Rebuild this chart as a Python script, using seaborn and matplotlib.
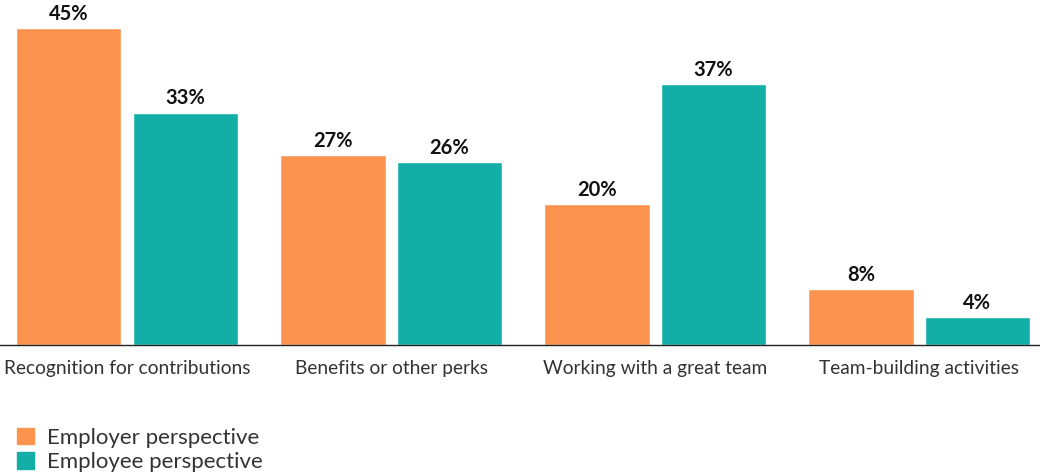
import pandas as pd
import seaborn as sns
import matplotlib.pyplot as plt

categories = ['Recognition for contributions', 'Benefits or other perks',
              'Working with a great team', 'Team-building activities']
employer = [45, 27, 20, 8]
employee = [33, 26, 37, 4]
series = ['Employer perspective', 'Employee perspective']
colors = ['#FC9450', '#13AFA6']

df = pd.DataFrame({
    'category': categories * 2,
    'value': employer + employee,
    'series': [series[0]] * 4 + [series[1]] * 4,
})

sns.set_theme(style='white')
plt.rcParams['font.family'] = ['Lato', 'DejaVu Sans']

fig = plt.figure(figsize=(10.4, 4.75), dpi=100)
ax = fig.add_axes([0, (475 - 345) / 475, 1, 345 / 475])

sns.barplot(data=df, x='category', y='value', hue='series', palette=colors,
            width=0.88, gap=0.095, saturation=1, ax=ax, legend=False)

for c in ax.containers:
    ax.bar_label(c, labels=[f'{v:.0f}%' for v in c.datavalues], padding=3,
                 fontsize=14.5, fontweight='bold', color='#111111')

ax.set_xlim(-0.481, 3.458)
ax.set_ylim(0, 49)
ax.set_xlabel('')
ax.set_ylabel('')
ax.set_yticks([])
sns.despine(ax=ax, left=True)
ax.spines['bottom'].set_color('#222222')
ax.spines['bottom'].set_linewidth(1)
ax.tick_params(axis='x', length=0, pad=11, labelsize=13.8, labelcolor='#333333')

handles = [plt.Rectangle((0, 0), 1, 1, color=col) for col in colors]
fig.legend(handles, series, loc='upper left', bbox_to_anchor=(0.008, 0.118),
           frameon=False, handlelength=0.75, handleheight=0.75, handletextpad=0.6,
           labelspacing=0.2, fontsize=16, labelcolor='#333333', borderaxespad=0)

fig.savefig('out.png', dpi=100)
